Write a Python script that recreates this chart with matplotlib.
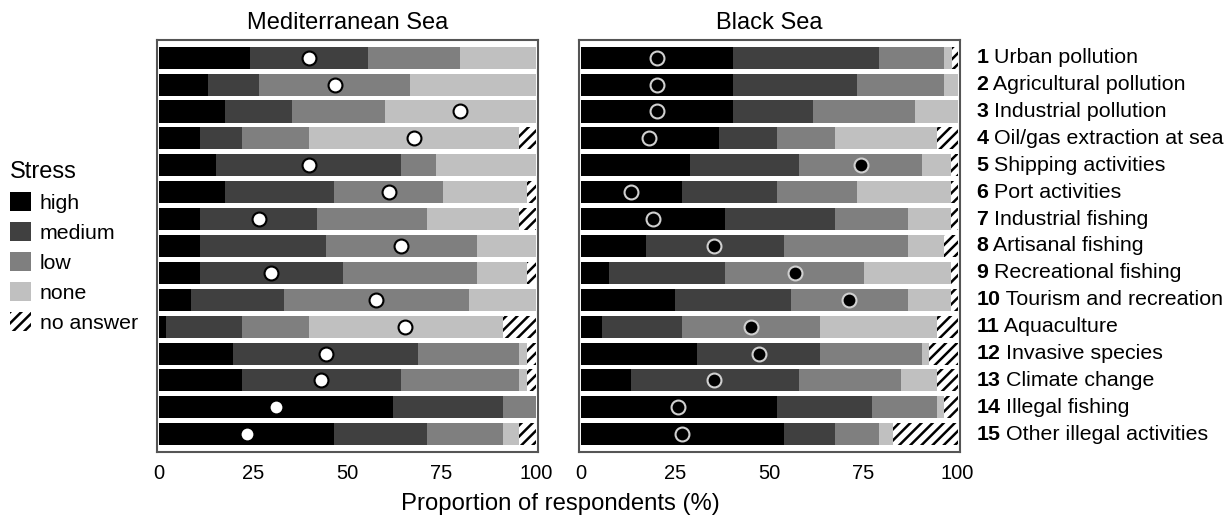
import numpy as np
import matplotlib.pyplot as plt
from matplotlib.patches import Patch

plt.rcParams['font.family'] = ['Liberation Sans', 'DejaVu Sans']
plt.rcParams['hatch.linewidth'] = 1.8

# pressures (row 1 at top)
pressures = ["Urban pollution", "Agricultural pollution", "Industrial pollution",
             "Oil/gas extraction at sea", "Shipping activities", "Port activities",
             "Industrial fishing", "Artisanal fishing", "Recreational fishing",
             "Tourism and recreation", "Aquaculture", "Invasive species",
             "Climate change", "Illegal fishing", "Other illegal activities"]

# Mediterranean Sea, % of respondents
med_high   = [24.1, 13.0, 17.4, 10.8, 15.2, 17.4, 10.8, 10.8, 10.8, 8.4, 1.8, 19.6, 21.9, 62.1, 46.5]
med_medium = [31.4, 13.5, 18.0, 11.2, 49.1, 29.1, 31.2, 33.4, 37.9, 24.7, 20.1, 49.2, 42.4, 29.1, 24.5]
med_low    = [24.5, 40.0, 24.5, 17.8, 9.1, 28.9, 29.0, 40.2, 35.7, 49.1, 17.9, 26.8, 31.3, 8.8, 20.2]
med_none   = [20.0, 33.5, 40.1, 55.8, 26.6, 22.4, 24.6, 15.6, 13.4, 17.8, 51.4, 2.2, 2.2, 0.0, 4.4]
med_na     = [0.0, 0.0, 0.0, 4.4, 0.0, 2.2, 4.4, 0.0, 2.2, 0.0, 8.8, 2.2, 2.2, 0.0, 4.4]
med_mean   = [39.8, 46.6, 80.0, 67.7, 39.8, 61.0, 26.5, 64.3, 29.8, 57.7, 65.4, 44.4, 43.1, 30.9, 23.2]

# Black Sea, % of respondents
blk_high   = [40.4, 40.4, 40.4, 36.5, 28.8, 26.8, 38.3, 17.1, 7.4, 24.8, 5.5, 30.7, 13.2, 51.9, 53.9]
blk_medium = [38.7, 32.8, 21.3, 15.4, 29.0, 25.1, 29.1, 36.8, 30.9, 30.9, 21.3, 32.8, 44.6, 25.3, 13.5]
blk_low    = [17.3, 23.2, 27.0, 15.5, 32.8, 21.3, 19.4, 32.9, 36.8, 31.1, 36.7, 27.1, 27.1, 17.2, 11.7]
blk_none   = [2.0, 3.6, 11.3, 27.0, 7.6, 25.0, 11.4, 9.6, 23.1, 11.4, 30.9, 1.9, 9.5, 2.0, 3.6]
blk_na     = [1.6, 0.0, 0.0, 5.6, 1.8, 1.8, 1.8, 3.6, 1.8, 1.8, 5.6, 7.5, 5.6, 3.6, 17.3]
blk_mean   = [20.1, 20.1, 20.1, 18.1, 74.2, 13.2, 19.0, 35.4, 56.8, 71.2, 45.1, 47.2, 35.4, 25.8, 26.9]

levels = ["high", "medium", "low", "none", "no answer"]
colors = ["#000000", "#404040", "#7f7f7f", "#c0c0c0", "white"]

fig = plt.figure(figsize=(12.31, 5.23), dpi=100)
ax1 = fig.add_axes([0.1278, 0.1358, 0.3089, 0.7878])
ax2 = fig.add_axes([0.4706, 0.1358, 0.3089, 0.7878])

y = np.arange(len(pressures))


def draw(ax, parts, mean, title, mfc, mec):
    left = np.zeros(len(y))
    for vals, col, lab in zip(parts, colors, levels):
        vals = np.array(vals)
        if lab == "no answer":
            ax.barh(y, vals, left=left, height=0.82, color="white",
                    edgecolor="black", linewidth=0, hatch="///")
        else:
            ax.barh(y, vals, left=left, height=0.82, color=col, linewidth=0)
        left += vals
    ax.plot(mean, y, "o", ms=10, mfc=mfc, mec=mec, mew=1.5, ls="none")
    ax.set_xlim(-0.5, 100.5)
    ax.set_ylim(14.66, -0.66)
    ax.set_yticks([])
    ax.set_xticks([0, 25, 50, 75, 100])
    ax.tick_params(axis="x", length=0, pad=9, labelsize=14.5)
    for s in ax.spines.values():
        s.set_color("#555555")
        s.set_linewidth(1.5)
    ax.set_title(title, fontsize=17, pad=8)


draw(ax1, [med_high, med_medium, med_low, med_none, med_na], med_mean,
     "Mediterranean Sea", "white", "black")
draw(ax2, [blk_high, blk_medium, blk_low, blk_none, blk_na], blk_mean,
     "Black Sea", "black", "#d0d0d0")

# numbered pressure labels on the right
for i, name in enumerate(pressures):
    t = ax2.annotate(str(i + 1), xy=(1, i), xycoords=("axes fraction", "data"),
                     xytext=(12, 0), textcoords="offset points",
                     va="center", ha="left", fontsize=15.4, fontweight="bold")
    ax2.annotate(" " + name, xy=(1, 0), xycoords=t, va="bottom", ha="left",
                 fontsize=15.4)

fig.text(0.455, 0.036, "Proportion of respondents (%)", ha="center",
         va="center", fontsize=17.2)

handles = [Patch(facecolor=c, edgecolor="none") for c in colors[:4]]
handles.append(Patch(facecolor="white", edgecolor="black", linewidth=0, hatch="///"))
leg = fig.legend(handles, levels, title="Stress", loc="upper left",
                 bbox_to_anchor=(0.008, 0.692), frameon=False, fontsize=15.3,
                 title_fontsize=17, handlelength=1.0, handleheight=1.0,
                 handletextpad=0.4, labelspacing=0.43, borderpad=0,
                 borderaxespad=0, alignment="left")

fig.savefig("out.png", dpi=100)
